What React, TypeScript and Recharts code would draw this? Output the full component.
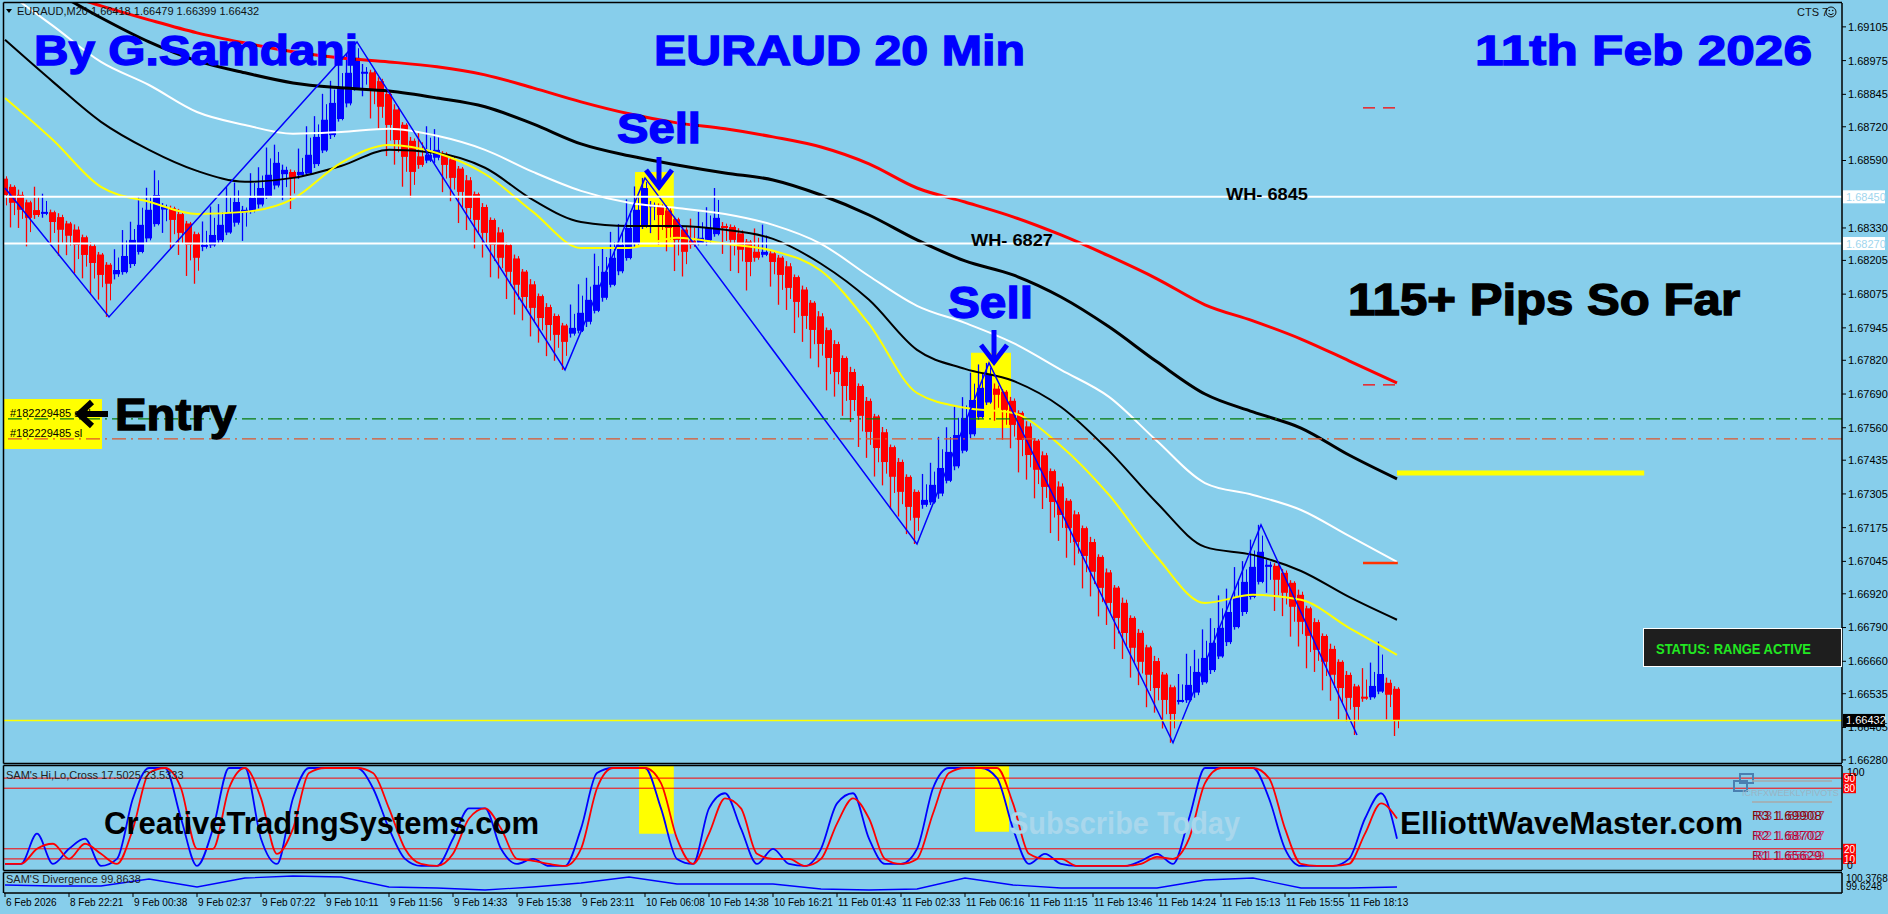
import React from 'react';
import { ComposedChart, Line, Bar, XAxis, YAxis, ReferenceLine, ReferenceArea } from 'recharts';

const BG = '#87CEEB';
const NARROW = "'Liberation Sans Narrow','Liberation Sans',Arial,sans-serif";
const BOLD = "'Liberation Sans',Arial,sans-serif";
const X0 = -0.125;
const X1 = 229.625;

// ---------- data (prices in points, 1 point = 0.00001) ----------
const dateLabels = ['6 Feb 2026', '8 Feb 22:21', '9 Feb 00:38', '9 Feb 02:37', '9 Feb 07:22', '9 Feb 10:11', '9 Feb 11:56', '9 Feb 14:33', '9 Feb 15:38', '9 Feb 23:11', '10 Feb 06:08', '10 Feb 14:38', '10 Feb 16:21', '11 Feb 01:43', '11 Feb 02:33', '11 Feb 06:16', '11 Feb 11:15', '11 Feb 13:46', '11 Feb 14:24', '11 Feb 15:13', '11 Feb 15:55', '11 Feb 18:13'];
const dateTickBars = [0, 8, 16, 24, 32, 40, 48, 56, 64, 72, 80, 88, 96, 104, 112, 120, 128, 136, 144, 152, 160, 168];

const priceTicks = [169105, 168975, 168845, 168720, 168590, 168330, 168205, 168075, 167945, 167820, 167690, 167560, 167435, 167305, 167175, 167045, 166920, 166790, 166660, 166535, 166405, 166280];

const firstOpen = 168520;
const closes = [
  168457, 168427, 168400, 168369, 168380, 168392, 168353, 168323, 168300, 168265,
  168226, 168195, 168149, 168115, 168168, 168222, 168284, 168342, 168400, 168457,
  168411, 168361, 168311, 168265, 168215, 168265, 168303, 168342, 168388, 168430,
  168400, 168446, 168484, 168535, 168581, 168554, 168523, 168546, 168612, 168681,
  168747, 168812, 168870, 168928, 168986, 168932, 168862, 168797, 168727, 168669,
  168604, 168546, 168573, 168612, 168631, 168573, 168523, 168469, 168407, 168361,
  168311, 168265, 168215, 168161, 168111, 168064, 168022, 167983, 167956, 167918,
  167891, 167945, 168003, 168053, 168111, 168161, 168215, 168265, 168330, 168400,
  168484, 168419, 168380, 168330, 168284, 168238, 168265, 168292, 168330, 168369,
  168330, 168284, 168246, 168199, 168215, 168238, 168199, 168149, 168099, 168045,
  167991, 167937, 167883, 167829, 167775, 167721, 167667, 167606, 167544, 167482,
  167428, 167371, 167313, 167255, 167213, 167282, 167340, 167405, 167467, 167532,
  167598, 167667, 167714, 167764, 167687, 167629, 167571, 167513, 167455, 167398,
  167332, 167274, 167224, 167174, 167120, 167066, 167005, 166943, 166885, 166827,
  166769, 166712, 166658, 166608, 166557, 166511, 166457, 166511, 166569, 166619,
  166673, 166731, 166789, 166850, 166908, 166966, 167024, 167082, 167032, 166974,
  166924, 166870, 166812, 166758, 166704, 166658, 166608, 166557, 166519, 166484,
  166519, 166565, 166611, 166531, 166432,
];
const wickUp = [
  15, 10, 20, 10, 90, 70, 10, 15, 10, 20,
  10, 15, 10, 10, 80, 100, 70, 110, 85, 95,
  15, 10, 20, 10, 10, 90, 110, 80, 100, 75,
  15, 95, 80, 105, 70, 20, 10, 90, 110, 80,
  100, 85, 95, 75, 61, 30, 10, 15, 10, 20,
  10, 15, 90, 110, 80, 10, 15, 10, 20, 10,
  15, 10, 20, 10, 15, 10, 20, 10, 15, 10,
  10, 90, 110, 85, 120, 95, 100, 80, 110, 90,
  39, 15, 10, 20, 10, 15, 85, 100, 80, 115,
  15, 10, 20, 10, 90, 105, 15, 10, 20, 10,
  15, 10, 20, 10, 15, 10, 20, 10, 15, 10,
  20, 10, 15, 10, 10, 100, 85, 120, 95, 110,
  80, 105, 90, 46, 20, 10, 15, 10, 20, 10,
  15, 10, 20, 10, 15, 10, 20, 10, 15, 10,
  20, 10, 15, 10, 20, 10, 10, 100, 120, 85,
  110, 95, 125, 90, 115, 80, 105, 104, 20, 10,
  15, 10, 20, 10, 15, 10, 20, 10, 15, 10,
  110, 90, 125, 20, 10,
];
const wickDn = [
  80, 95, 70, 110, 15, 20, 85, 100, 75, 110,
  90, 120, 95, 128, 20, 10, 15, 10, 15, 10,
  90, 110, 85, 120, 100, 20, 10, 15, 10, 15,
  110, 10, 15, 10, 15, 100, 120, 15, 10, 15,
  10, 15, 10, 15, 10, 90, 110, 85, 120, 95,
  115, 100, 15, 10, 20, 105, 90, 120, 85, 110,
  95, 125, 80, 105, 115, 90, 110, 95, 120, 100,
  108, 15, 10, 20, 10, 15, 10, 15, 10, 15,
  10, 100, 115, 90, 120, 95, 15, 10, 20, 10,
  100, 120, 90, 110, 15, 10, 95, 115, 85, 120,
  100, 110, 90, 125, 95, 115, 85, 120, 100, 110,
  90, 125, 95, 105, 101, 15, 10, 20, 10, 15,
  10, 15, 10, 10, 100, 115, 90, 125, 95, 110,
  85, 120, 100, 115, 90, 125, 95, 110, 85, 120,
  100, 115, 90, 125, 95, 110, 111, 15, 10, 20,
  10, 15, 10, 15, 10, 15, 10, 10, 100, 120,
  90, 115, 95, 125, 85, 110, 100, 120, 90, 108,
  15, 10, 10, 95, 60,
];

const maBars = [0, 6, 12, 18, 24, 30, 36, 42, 48, 54, 60, 66, 72, 78, 84, 90, 96, 102, 108, 114, 120, 126, 132, 138, 144, 150, 156, 162, 168, 174];
const maRed = [169294, 169244, 169186, 169132, 169082, 169043, 169009, 168985, 168970, 168951, 168920, 168870, 168816, 168770, 168735, 168712, 168681, 168642, 168577, 168484, 168430, 168373, 168303, 168222, 168134, 168034, 167972, 167902, 167818, 167733];
const maBlackSlow = [169348, 169244, 169140, 169047, 168974, 168928, 168889, 168870, 168858, 168831, 168797, 168731, 168654, 168608, 168573, 168542, 168515, 168457, 168380, 168284, 168203, 168149, 168064, 167949, 167814, 167690, 167621, 167559, 167455, 167363];
const maWhite = [169244, 169109, 168970, 168881, 168777, 168727, 168693, 168700, 168712, 168685, 168631, 168546, 168473, 168427, 168407, 168384, 168342, 168269, 168145, 168030, 167964, 167887, 167783, 167679, 167509, 167347, 167301, 167243, 167143, 167043];
const maBlackFast = [169055, 168893, 168739, 168631, 168550, 168508, 168523, 168569, 168631, 168619, 168562, 168438, 168353, 168338, 168338, 168323, 168288, 168192, 168053, 167860, 167787, 167741, 167640, 167471, 167270, 167101, 167070, 167008, 166908, 166820];
const maYellow = [168831, 168669, 168488, 168431, 168384, 168392, 168442, 168581, 168650, 168619, 168538, 168392, 168253, 168253, 168292, 168269, 168242, 168165, 167960, 167694, 167637, 167617, 167490, 167301, 167062, 166885, 166916, 166897, 166789, 166685];

const zzBars = [0, 13, 44, 70, 80, 114, 123, 146, 157, 169];
const zzVals = [168484, 167987, 169047, 167783, 168523, 167112, 167810, 166346, 167186, 166376];

const oscBars = Array.from({ length: 88 }, (_, k) => k * 2);
const oscBlue = [5, 5, 35, 5, 20, 30, 3, 10, 70, 100, 100, 50, 3, 40, 100, 100, 30, 5, 70, 100, 100, 100, 100, 80, 40, 10, 3, 3, 30, 60, 60, 20, 5, 10, 3, 3, 40, 95, 100, 100, 100, 60, 10, 5, 60, 75, 40, 5, 20, 5, 3, 20, 65, 75, 30, 5, 5, 20, 80, 100, 100, 100, 90, 40, 5, 15, 5, 3, 3, 3, 3, 8, 15, 5, 50, 100, 100, 100, 100, 70, 20, 3, 3, 3, 10, 50, 75, 30];
const oscRed = [5, 5, 20, 25, 10, 25, 15, 5, 40, 95, 100, 80, 20, 20, 80, 100, 70, 15, 40, 95, 100, 100, 100, 95, 60, 20, 5, 3, 15, 50, 60, 40, 10, 8, 5, 3, 20, 80, 100, 100, 100, 85, 30, 5, 35, 70, 60, 15, 10, 10, 3, 10, 45, 70, 50, 10, 5, 10, 55, 95, 100, 100, 100, 65, 15, 10, 10, 3, 3, 3, 3, 5, 12, 10, 30, 85, 100, 100, 100, 90, 40, 5, 3, 3, 5, 35, 65, 50];

const divVals = [99.92, 99.88, 99.88, 100.16, 99.84, 100.2, 100.28, 100.24, 99.84, 99.8, 99.72, 99.84, 100.0, 100.24, 99.96, 99.96, 99.96, 99.76, 99.72, 99.76, 100.2, 99.92, 99.8, 99.8, 99.8, 100.12, 100.2, 99.8, 99.8, 99.84];

// ---------- tables (Heiken-Ashi style bars: open = midpoint of previous body) ----------
const rows: any[] = [];
closes.forEach((c, i) => {
  const o = i === 0 ? firstOpen : (rows[i - 1].o + rows[i - 1].c) / 2;
  rows.push({ i, o, c, hi: Math.max(o, c) + wickUp[i], lo: Math.min(o, c) - wickDn[i] });
});
maBars.forEach((b, k) => {
  rows[b].red = maRed[k];
  rows[b].blkS = maBlackSlow[k];
  rows[b].wht = maWhite[k];
  rows[b].blkF = maBlackFast[k];
  rows[b].yel = maYellow[k];
});
zzBars.forEach((b, k) => { rows[b].zz = zzVals[k]; });

const oscRows = oscBars.map((b, k) => ({ i: b, blue: oscBlue[k], red: oscRed[k] }));
const divRows = maBars.map((b, k) => ({ i: b, v: divVals[k] }));

const fmt = (v: number) => (v / 100000).toFixed(5);

// ---------- shapes ----------
const Candle = (props: any) => {
  const { x, y, width, height, payload } = props;
  if (!payload || height === undefined) return null;
  const { o, c, hi, lo } = payload;
  const up = c >= o;
  const col = up ? '#0000FF' : '#FF0000';
  const top = Math.min(y, y + height);
  const h = Math.abs(height);
  const py = (v: number) => top + ((hi - v) / (hi - lo)) * h;
  const cx = x + width / 2;
  const bt = py(Math.max(o, c));
  const bb = py(Math.min(o, c));
  return (
    <g>
      <line x1={cx - 2} x2={cx - 2} y1={top} y2={top + h} stroke={col} strokeWidth={1.3} />
      <line x1={cx + 2} x2={cx + 2} y1={bt - (bt - top) * 0.6} y2={bb + (top + h - bb) * 0.5} stroke={col} strokeWidth={1} />
      <rect x={cx - 3.5} y={bt} width={7} height={Math.max(2, bb - bt)} fill={col} />
    </g>
  );
};

const AxisTag = (props: any) => {
  const { viewBox, text, bg, fg } = props;
  if (!viewBox) return null;
  const y = viewBox.y;
  const x = viewBox.x + viewBox.width;
  return (
    <g>
      <rect x={x + 1} y={y - 6.5} width={42} height={13} fill={bg} />
      <text x={x + 4} y={y + 4} fontSize={11} fontFamily={NARROW} fill={fg}>{text}</text>
    </g>
  );
};

const RedTag = (props: any) => {
  const { viewBox, text } = props;
  if (!viewBox) return null;
  const y = viewBox.y;
  const x = viewBox.x + viewBox.width;
  return (
    <g>
      <rect x={x + 1} y={y - 5} width={13} height={10} fill="#FF0000" />
      <text x={x + 2} y={y + 4} fontSize={10} fontFamily={NARROW} fill="#FFFFFF">{text}</text>
    </g>
  );
};

const DateTick = (p: any) => {
  const idx = dateTickBars.indexOf(p.payload.value);
  return (
    <text x={p.x + 1} y={p.y} dy="0.71em" fontSize={10} fontFamily={NARROW} fill="#000" textAnchor="start">
      {idx >= 0 ? dateLabels[idx] : ''}
    </text>
  );
};

const Heavy = ({ x, y, size, len, fill, children }: any) => (
  <text x={x} y={y} fontSize={size} fontFamily={BOLD} fontWeight={700} fill={fill} stroke={fill} strokeWidth={1.3}
    textLength={len} lengthAdjust="spacingAndGlyphs">{children}</text>
);

const SellArrow = ({ cx, y0, y1 }: any) => (
  <g stroke="#0000FF" strokeWidth={5} fill="none" strokeLinecap="butt">
    <line x1={cx} x2={cx} y1={y0} y2={y1 - 3} />
    <polyline points={`${cx - 13},${y1 - 17} ${cx},${y1} ${cx + 13},${y1 - 17}`} />
  </g>
);

export default function App() {
  return (
    <div style={{ position: 'fixed', left: 0, top: 0, width: 1888, height: 914, background: BG, overflow: 'hidden' }}>
      {/* under layer */}
      <svg width={1888} height={914} style={{ position: 'absolute', left: 0, top: 0 }}>
        <rect x={4} y={399} width={98} height={50} fill="#FFFF00" />
        <text x={10} y={417} fontSize={11} fontFamily={NARROW} fill="#000">#182229485 sell</text>
        <text x={10} y={437} fontSize={11} fontFamily={NARROW} fill="#000">#182229485 sl</text>
      </svg>

      {/* main price chart */}
      <div style={{ position: 'absolute', left: 0, top: 0 }}>
        <ComposedChart width={1888} height={766} data={rows} margin={{ top: 3, right: 0, bottom: 3, left: 4 }}>
          <XAxis dataKey="i" type="number" domain={[X0, X1]} hide allowDataOverflow />
          <YAxis orientation="right" width={46} domain={[166268, 169197]} allowDataOverflow ticks={priceTicks} interval={0}
            tickFormatter={fmt} tick={{ fontSize: 11, fill: '#000', fontFamily: NARROW }} tickSize={4} tickMargin={2}
            axisLine={{ stroke: '#000', strokeWidth: 1.5 }} tickLine={{ stroke: '#000' }} />
          <ReferenceArea x1={78.75} x2={83.6} y1={168257} y2={168546} fill="#FFFF00" fillOpacity={1} stroke="none" />
          <ReferenceArea x1={120.75} x2={125.75} y1={167559} y2={167849} fill="#FFFF00" fillOpacity={1} stroke="none" />
          <Bar dataKey={(d: any) => [d.lo, d.hi]} shape={Candle} barSize={7} isAnimationActive={false} />
          <Line dataKey="red" stroke="#FF0000" strokeWidth={3} dot={false} connectNulls type="monotone" isAnimationActive={false} />
          <Line dataKey="blkS" stroke="#000000" strokeWidth={3} dot={false} connectNulls type="monotone" isAnimationActive={false} />
          <Line dataKey="wht" stroke="#FFFFFF" strokeWidth={2} dot={false} connectNulls type="monotone" isAnimationActive={false} />
          <Line dataKey="blkF" stroke="#000000" strokeWidth={2} dot={false} connectNulls type="monotone" isAnimationActive={false} />
          <Line dataKey="yel" stroke="#FFFF00" strokeWidth={2} dot={false} connectNulls type="monotone" isAnimationActive={false} />
          <Line dataKey="zz" stroke="#0000FF" strokeWidth={1.5} dot={false} connectNulls type="linear" isAnimationActive={false} />
          <ReferenceLine y={168450} stroke="#FFFFFF" strokeWidth={2} label={<AxisTag text="1.68450" bg="#FFFFFF" fg="#9fd6ee" />} />
          <ReferenceLine y={168270} stroke="#FFFFFF" strokeWidth={2} label={<AxisTag text="1.68270" bg="#FFFFFF" fg="#9fd6ee" />} />
          <ReferenceLine y={167594} stroke="#0a7a0a" strokeWidth={1.2} strokeDasharray="14 5 2 5" />
          <ReferenceLine y={167517} stroke="#E0552B" strokeWidth={1.2} strokeDasharray="14 5 2 5" />
          <ReferenceLine y={166432} stroke="#FFFF00" strokeWidth={1.5} label={<AxisTag text="1.66432" bg="#000000" fg="#FFFFFF" />} />
          <ReferenceLine segment={[{ x: 169.75, y: 168793 }, { x: 174.1, y: 168793 }]} stroke="#FF0000" strokeWidth={1.2} strokeDasharray="12 8" />
          <ReferenceLine segment={[{ x: 169.75, y: 167725 }, { x: 174.1, y: 167725 }]} stroke="#FF0000" strokeWidth={1.2} strokeDasharray="12 8" />
          <ReferenceLine segment={[{ x: 169.75, y: 167039 }, { x: 174.1, y: 167039 }]} stroke="#FF3300" strokeWidth={2.5} />
          <ReferenceLine segment={[{ x: 174, y: 167386 }, { x: 204.9, y: 167386 }]} stroke="#FFFF00" strokeWidth={5} />
        </ComposedChart>
      </div>

      {/* oscillator panel */}
      <div style={{ position: 'absolute', left: 0, top: 765 }}>
        <ComposedChart width={1888} height={106} data={oscRows} margin={{ top: 1, right: 0, bottom: 1, left: 4 }}>
          <XAxis dataKey="i" type="number" domain={[X0, X1]} hide allowDataOverflow />
          <YAxis orientation="right" width={46} domain={[-1, 102]} allowDataOverflow tick={false} tickLine={false}
            axisLine={{ stroke: '#000', strokeWidth: 1.5 }} />
          <ReferenceArea x1={79.25} x2={83.6} y1={35} y2={102} fill="#FFFF00" fillOpacity={1} stroke="none" />
          <ReferenceArea x1={121.25} x2={125.5} y1={37} y2={102} fill="#FFFF00" fillOpacity={1} stroke="none" />
          <ReferenceLine y={90} stroke="#FF0000" strokeWidth={1} label={<RedTag text="90" />} />
          <ReferenceLine y={80} stroke="#FF0000" strokeWidth={1} label={<RedTag text="80" />} />
          <ReferenceLine y={20} stroke="#FF0000" strokeWidth={1} label={<RedTag text="20" />} />
          <ReferenceLine y={10} stroke="#FF0000" strokeWidth={1} label={<RedTag text="10" />} />
          <Line dataKey="blue" stroke="#0000FF" strokeWidth={1.8} dot={false} type="monotone" isAnimationActive={false} />
          <Line dataKey="red" stroke="#FF0000" strokeWidth={1.8} dot={false} type="monotone" isAnimationActive={false} />
        </ComposedChart>
      </div>

      {/* divergence panel + time axis */}
      <div style={{ position: 'absolute', left: 0, top: 872 }}>
        <ComposedChart width={1888} height={42} data={divRows} margin={{ top: 1, right: 0, bottom: 0, left: 4 }}>
          <XAxis dataKey="i" type="number" domain={[X0, X1]} allowDataOverflow ticks={dateTickBars} interval={0}
            height={21} tickSize={4} tickMargin={2} tick={DateTick} axisLine={{ stroke: '#000', strokeWidth: 1.5 }} tickLine={{ stroke: '#000' }} />
          <YAxis orientation="right" width={46} domain={[99.6, 100.4]} allowDataOverflow tick={false} tickLine={false}
            axisLine={{ stroke: '#000', strokeWidth: 1.5 }} />
          <Line dataKey="v" stroke="#0000FF" strokeWidth={1.3} dot={false} type="linear" isAnimationActive={false} />
        </ComposedChart>
      </div>

      {/* top overlay */}
      <svg width={1888} height={914} style={{ position: 'absolute', left: 0, top: 0, pointerEvents: 'none' }}>
        {/* panel borders */}
        <g stroke="#000" strokeWidth={1.5} fill="none">
          <line x1={3.5} x2={1842} y1={2.5} y2={2.5} />
          <line x1={3.5} x2={3.5} y1={2.5} y2={763.5} />
          <line x1={3.5} x2={1842} y1={763.5} y2={763.5} />
          <line x1={3.5} x2={1842} y1={765.5} y2={765.5} />
          <line x1={3.5} x2={3.5} y1={765.5} y2={870.5} />
          <line x1={3.5} x2={1842} y1={870.5} y2={870.5} />
          <line x1={3.5} x2={1842} y1={872.5} y2={872.5} />
          <line x1={3.5} x2={3.5} y1={872.5} y2={893} />
        </g>
        {/* header */}
        <polygon points="6,9 12,9 9,13" fill="#000" />
        <text x={17} y={15} fontSize={11} fontFamily={NARROW} fill="#111">EURAUD,M20  1.66418 1.66479 1.66399 1.66432</text>
        <text x={1797} y={16} fontSize={11} fontFamily={NARROW} fill="#111">CTS 7</text>
        <g stroke="#111" strokeWidth={1} fill="none">
          <circle cx={1831} cy={12} r={5} />
          <path d="M1828.5,13.5 Q1831,16 1833.5,13.5" />
        </g>
        <circle cx={1829.3} cy={10.5} r={0.8} fill="#111" />
        <circle cx={1832.7} cy={10.5} r={0.8} fill="#111" />

        {/* titles */}
        <Heavy x={34} y={65} size={42} len={324} fill="#0000FF">By G.Samdani</Heavy>
        <Heavy x={654} y={65} size={42} len={371} fill="#0000FF">EURAUD 20 Min</Heavy>
        <Heavy x={1475} y={65} size={42} len={337} fill="#0000FF">11th Feb 2026</Heavy>
        <Heavy x={1348} y={315} size={44} len={392} fill="#000000">115+ Pips So Far</Heavy>
        <Heavy x={617} y={143} size={42} len={84} fill="#0000FF">Sell</Heavy>
        <Heavy x={948} y={318} size={44} len={85} fill="#0000FF">Sell</Heavy>
        <SellArrow cx={659} y0={157} y1={187} />
        <SellArrow cx={994} y0={330} y1={362} />

        {/* entry */}
        <g stroke="#000" strokeWidth={6} fill="none">
          <line x1={82} x2={108} y1={414} y2={414} />
          <polyline points="92,402 79,414 92,426" />
        </g>
        <Heavy x={115} y={430} size={44} len={121} fill="#000000">Entry</Heavy>

        {/* WH labels */}
        <text x={1226} y={200} fontSize={17} fontFamily={BOLD} fontWeight={700} fill="#000" textLength={82} lengthAdjust="spacingAndGlyphs">WH- 6845</text>
        <text x={971} y={246} fontSize={17} fontFamily={BOLD} fontWeight={700} fill="#000" textLength={82} lengthAdjust="spacingAndGlyphs">WH- 6827</text>

        {/* status box */}
        <rect x={1643.5} y={628.5} width={198} height={38} fill="#1e1e1e" stroke="#FFFFFF" strokeWidth={1} />
        <text x={1656} y={654} fontSize={14} fontFamily={BOLD} fontWeight={700} fill="#22E822" textLength={155} lengthAdjust="spacingAndGlyphs">STATUS: RANGE ACTIVE</text>

        {/* oscillator panel texts */}
        <text x={6} y={779} fontSize={11} fontFamily={NARROW} fill="#222">SAM's Hi,Lo,Cross 17.5025 23.5333</text>
        <text x={104} y={834} fontSize={31} fontFamily={BOLD} fontWeight={700} fill="#000" textLength={435} lengthAdjust="spacingAndGlyphs">CreativeTradingSystems.com</text>
        <text x={1009} y={834} fontSize={31} fontFamily={BOLD} fontWeight={700} fill="#a9d7ec" textLength={231} lengthAdjust="spacingAndGlyphs">Subscribe Today</text>
        <text x={1400} y={834} fontSize={31} fontFamily={BOLD} fontWeight={700} fill="#000" textLength={343} lengthAdjust="spacingAndGlyphs">ElliottWaveMaster.com</text>
        <text x={1847} y={776} fontSize={10.5} fontFamily={NARROW} fill="#000">100</text>
        <text x={1847} y={869} fontSize={10.5} fontFamily={NARROW} fill="#000">0</text>

        {/* pivots widget */}
        <g stroke="#4a7fb0" strokeWidth={2} fill="none">
          <rect x={1740} y={774} width={13} height={9} />
          <rect x={1734} y={781} width={13} height={10} />
        </g>
        <line x1={1752} x2={1832} y1={781} y2={781} stroke="#a8a8a8" strokeWidth={1.5} />
        <line x1={1752} x2={1832} y1={802} y2={802} stroke="#a8a8a8" strokeWidth={1.5} />
        <text x={1742} y={796} fontSize={9} fontFamily={NARROW} fill="#9ab4c4">ICRFXWEEKLYPIVOTS</text>
        <text x={1752} y={820} fontSize={13.5} fontFamily={BOLD} fill="#800000">R3  1.69908</text>
        <text x={1755} y={820} fontSize={13.5} fontFamily={BOLD} fill="#A01030" opacity={0.85}>R3  1.69907</text>
        <text x={1752} y={840} fontSize={13.5} fontFamily={BOLD} fill="#A0002A">R2  1.68702</text>
        <text x={1755} y={840} fontSize={13.5} fontFamily={BOLD} fill="#D8205A" opacity={0.85}>R2  1.68707</text>
        <text x={1752} y={860} fontSize={13.5} fontFamily={BOLD} fill="#A0002A">R1  1.65629</text>
        <text x={1755} y={860} fontSize={13.5} fontFamily={BOLD} fill="#D8205A" opacity={0.85}>R1  1.65639</text>

        {/* divergence panel texts */}
        <text x={6} y={883} fontSize={11} fontFamily={NARROW} fill="#222">SAM'S Divergence 99.8638</text>
        <text x={1846} y={882} fontSize={10} fontFamily={NARROW} fill="#000">100.3768</text>
        <text x={1846} y={890} fontSize={10} fontFamily={NARROW} fill="#000">99.6248</text>
      </svg>
    </div>
  );
}
